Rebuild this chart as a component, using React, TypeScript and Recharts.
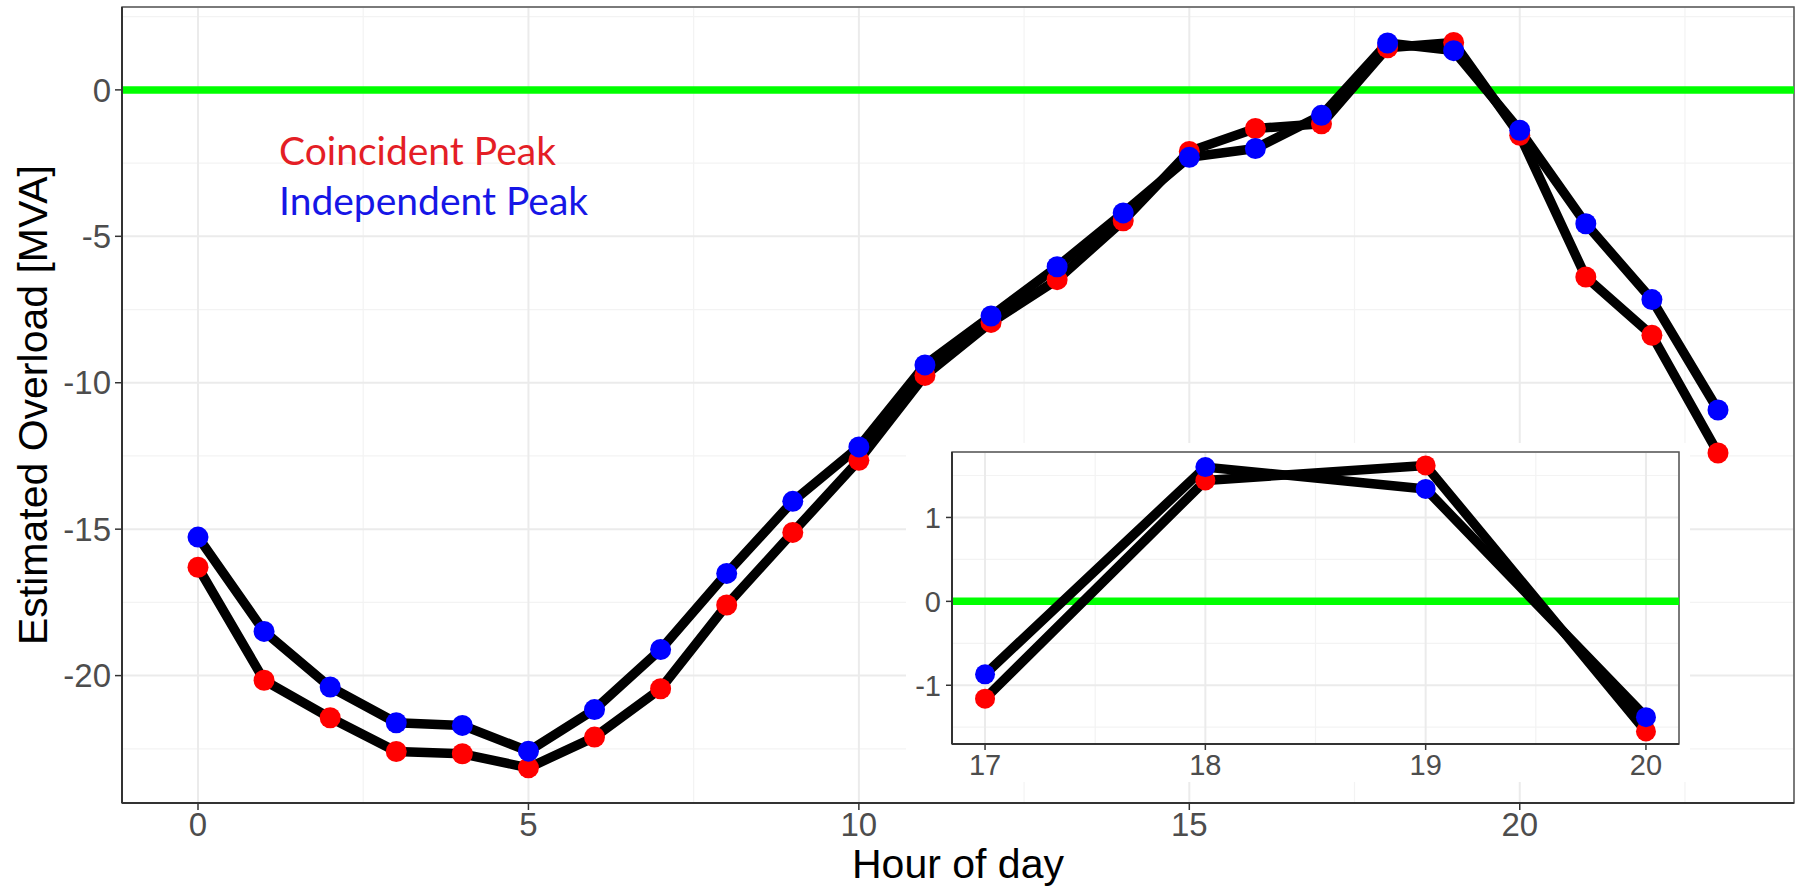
import { CartesianGrid, Line, LineChart, ReferenceArea, ReferenceLine, XAxis, YAxis } from "recharts";

// hour of day 0..23
const hours = [0, 1, 2, 3, 4, 5, 6, 7, 8, 9, 10, 11, 12, 13, 14, 15, 16, 17, 18, 19, 20, 21, 22, 23];

// estimated overload [MVA]
const coincidentPeak = [
  -16.3, -20.16, -21.44, -22.59, -22.67, -23.15, -22.1, -20.45, -17.59, -15.11, -12.65, -9.75,
  -7.94, -6.48, -4.47, -2.1, -1.32, -1.16, 1.44, 1.62, -1.55, -6.39, -8.38, -12.4,
];
const independentPeak = [
  -15.27, -18.49, -20.39, -21.61, -21.7, -22.58, -21.16, -19.11, -16.51, -14.05, -12.19, -9.39,
  -7.72, -6.04, -4.2, -2.3, -2.0, -0.87, 1.6, 1.34, -1.38, -4.57, -7.16, -10.93,
];

const mainXTicks = [0, 5, 10, 15, 20];
const mainXMinor = [2.5, 7.5, 12.5, 17.5, 22.5];
const mainYTicks = [0, -5, -10, -15, -20];
const mainYMinor = [2.5, -2.5, -7.5, -12.5, -17.5, -22.5];
const mainXDomain = [-1.15, 24.15];
const mainYDomain = [-24.35, 2.83];

const insetHours = [17, 18, 19, 20];
const insetXTicks = [17, 18, 19, 20];
const insetXMinor = [17.5, 18.5, 19.5];
const insetYTicks = [-1, 0, 1];
const insetYMinor = [-1.5, -0.5, 0.5, 1.5];
const insetXDomain = [16.85, 20.15];
const insetYDomain = [-1.7, 1.78];

const rows = hours.map((hour, i) => ({
  hour,
  coincident: coincidentPeak[i],
  independent: independentPeak[i],
}));
const insetRows = rows.filter((r) => insetHours.includes(r.hour));

const RED = "#ff0000";
const BLUE = "#0000ff";
const GREEN = "#00ff00";
const SANS = "'Liberation Sans', Arial, sans-serif";

function series(dotR: number, width: number) {
  return [
    <Line
      key="c-dots"
      dataKey="coincident"
      type="linear"
      stroke="none"
      dot={{ r: dotR, fill: RED, stroke: "none", strokeWidth: 0 }}
      activeDot={false}
      isAnimationActive={false}
    />,
    <Line
      key="c-line"
      dataKey="coincident"
      type="linear"
      stroke="#000"
      strokeWidth={width}
      strokeLinejoin="round"
      dot={false}
      activeDot={false}
      isAnimationActive={false}
    />,
    <Line
      key="i-line"
      dataKey="independent"
      type="linear"
      stroke="#000"
      strokeWidth={width}
      strokeLinejoin="round"
      dot={false}
      activeDot={false}
      isAnimationActive={false}
    />,
    <Line
      key="i-dots"
      dataKey="independent"
      type="linear"
      stroke="none"
      dot={{ r: dotR, fill: BLUE, stroke: "none", strokeWidth: 0 }}
      activeDot={false}
      isAnimationActive={false}
    />,
  ];
}

function MainChart() {
  return (
    <LineChart width={1799} height={887} data={rows} margin={{ top: 7, right: 5, left: 0, bottom: 0 }}>
      <XAxis xAxisId="minor" type="number" dataKey="hour" domain={mainXDomain} ticks={mainXMinor} allowDataOverflow hide />
      <YAxis yAxisId="minor" type="number" domain={mainYDomain} ticks={mainYMinor} allowDataOverflow hide />
      <CartesianGrid xAxisId="minor" yAxisId="minor" stroke="#f3f3f3" strokeWidth={1.2} />
      <XAxis
        type="number"
        dataKey="hour"
        domain={mainXDomain}
        ticks={mainXTicks}
        allowDataOverflow
        height={84}
        tickSize={7}
        tickMargin={3}
        axisLine={{ stroke: "#333", strokeWidth: 2 }}
        tickLine={{ stroke: "#333", strokeWidth: 1.5 }}
        tick={{ fontSize: 33, fill: "#4d4d4d", fontFamily: SANS }}
      />
      <YAxis
        type="number"
        domain={mainYDomain}
        ticks={mainYTicks}
        allowDataOverflow
        width={122}
        tickSize={7}
        tickMargin={4}
        axisLine={{ stroke: "#333", strokeWidth: 2 }}
        tickLine={{ stroke: "#333", strokeWidth: 1.5 }}
        tick={{ fontSize: 33, fill: "#4d4d4d", fontFamily: SANS }}
      />
      <CartesianGrid stroke="#ebebeb" strokeWidth={2} />
      <ReferenceArea
        x1={mainXDomain[0]}
        x2={mainXDomain[1]}
        y1={mainYDomain[0]}
        y2={mainYDomain[1]}
        fill="none"
        stroke="#555"
        strokeWidth={1.5}
        fillOpacity={0}
      />
      <ReferenceLine y={0} stroke={GREEN} strokeWidth={7.5} />
      {series(10.5, 9.5)}
    </LineChart>
  );
}

function InsetChart() {
  return (
    <LineChart width={784} height={339} data={insetRows} margin={{ top: 9, right: 11, left: 0, bottom: 0 }}>
      <XAxis xAxisId="minor" type="number" dataKey="hour" domain={insetXDomain} ticks={insetXMinor} allowDataOverflow hide />
      <YAxis yAxisId="minor" type="number" domain={insetYDomain} ticks={insetYMinor} allowDataOverflow hide />
      <CartesianGrid xAxisId="minor" yAxisId="minor" stroke="#f3f3f3" strokeWidth={1.2} />
      <XAxis
        type="number"
        dataKey="hour"
        domain={insetXDomain}
        ticks={insetXTicks}
        allowDataOverflow
        height={38}
        tickSize={6}
        tickMargin={4}
        axisLine={{ stroke: "#333", strokeWidth: 2 }}
        tickLine={{ stroke: "#333", strokeWidth: 1.5 }}
        tick={{ fontSize: 29, fill: "#4d4d4d", fontFamily: SANS }}
      />
      <YAxis
        type="number"
        domain={insetYDomain}
        ticks={insetYTicks}
        allowDataOverflow
        width={46}
        tickSize={6}
        tickMargin={5}
        axisLine={{ stroke: "#333", strokeWidth: 2 }}
        tickLine={{ stroke: "#333", strokeWidth: 1.5 }}
        tick={{ fontSize: 29, fill: "#4d4d4d", fontFamily: SANS }}
      />
      <CartesianGrid stroke="#ebebeb" strokeWidth={2} />
      <ReferenceArea
        x1={insetXDomain[0]}
        x2={insetXDomain[1]}
        y1={insetYDomain[0]}
        y2={insetYDomain[1]}
        fill="none"
        stroke="#555"
        strokeWidth={1.5}
        fillOpacity={0}
      />
      <ReferenceLine y={0} stroke={GREEN} strokeWidth={7.5} />
      {series(10, 9.5)}
    </LineChart>
  );
}

export default function App() {
  return (
    <div style={{ position: "absolute", left: 0, top: 0, width: 1799, height: 887, background: "#fff", overflow: "hidden" }}>
      <MainChart />
      <div style={{ position: "absolute", left: 906, top: 443, width: 784, height: 339, background: "#fff" }}>
        <InsetChart />
      </div>
      <svg width={1799} height={887} style={{ position: "absolute", left: 0, top: 0, pointerEvents: "none" }}>
        <text
          x={47}
          y={405}
          transform="rotate(-90 47 405)"
          textAnchor="middle"
          fontSize={41}
          fontFamily={SANS}
          fill="#000"
        >
          Estimated Overload [MVA]
        </text>
        <text x={958} y={878} textAnchor="middle" fontSize={41} fontFamily={SANS} fill="#000">
          Hour of day
        </text>
        <text x={279} y={165} fontSize={39} fontFamily="Lato, 'Open Sans', sans-serif" fill="#e41e26">
          Coincident Peak
        </text>
        <text x={279} y={215} fontSize={39} fontFamily="Lato, 'Open Sans', sans-serif" fill="#1616e6">
          Independent Peak
        </text>
      </svg>
    </div>
  );
}
